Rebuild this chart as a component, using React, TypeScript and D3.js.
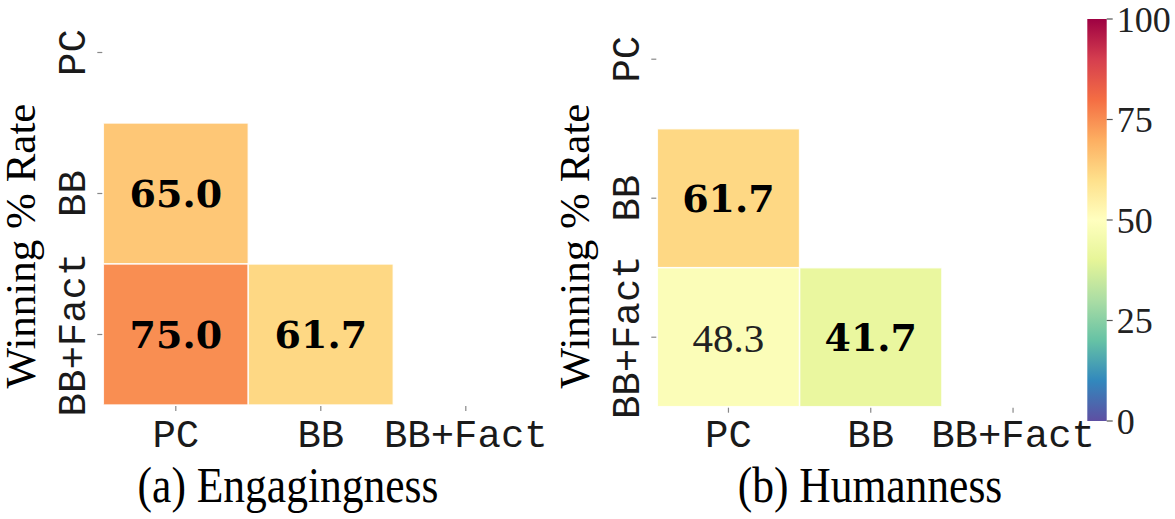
import React from "react";
import * as d3 from "d3";

// ---- data ----
const categories = ["PC", "BB", "BB+Fact"];
// cells: [rowIndex, colIndex]
const cellRows = [1, 2, 2];
const cellCols = [0, 0, 1];
const engagingValues = [65.0, 75.0, 61.7];
const engagingBold = [true, true, true];
const humanValues = [61.7, 48.3, 41.7];
const humanBold = [true, false, true];
const colorbarTicks = [0, 25, 50, 75, 100];
const spectralColors = [
  "#9e0142", "#d53e4f", "#f46d43", "#fdae61", "#fee08b", "#ffffbf",
  "#e6f598", "#abdda4", "#66c2a5", "#3288bd", "#5e4fa2",
];
const captions = ["(a) Engagingness", "(b) Humanness"];
const yLabel = "Winning % Rate";

// Spectral_r: 0 -> purple, 100 -> dark red
const colorDomain = d3.range(11).map((i) => i * 10);
const colorScale = d3
  .scaleLinear<string>()
  .domain(colorDomain)
  .range(spectralColors.slice().reverse())
  .interpolate(d3.interpolateRgb)
  .clamp(true);

const mono = "'Liberation Mono', 'DejaVu Sans Mono', monospace";
const serif = "'Liberation Serif', 'Times New Roman', serif";
const boldSerif = "'DejaVu Serif', serif";

interface PanelProps {
  x0: number;
  x1: number;
  y0: number;
  y1: number;
  values: number[];
  bold: boolean[];
  caption: string;
  captionX: number;
}

function Panel({ x0, x1, y0, y1, values, bold, caption, captionX }: PanelProps) {
  const x = d3.scaleBand<string>().domain(categories).range([x0, x1]);
  const y = d3.scaleBand<string>().domain(categories).range([y0, y1]);
  const bw = x.bandwidth();
  const bh = y.bandwidth();
  const midY = 246;
  return (
    <g>
      {values.map((v, i) => {
        const cx = x(categories[cellCols[i]])!;
        const cy = y(categories[cellRows[i]])!;
        return (
          <rect
            key={"c" + i}
            x={cx}
            y={cy}
            width={bw}
            height={bh}
            fill={colorScale(v)}
            stroke="#ffffff"
            strokeOpacity={0.85}
            strokeWidth={1.5}
          />
        );
      })}
      {values.map((v, i) => {
        const cx = x(categories[cellCols[i]])! + bw / 2;
        const cy = y(categories[cellRows[i]])! + bh / 2;
        return (
          <text
            key={"t" + i}
            x={cx}
            y={cy}
            dy="0.36em"
            textAnchor="middle"
            fontFamily={bold[i] ? boldSerif : serif}
            fontWeight={bold[i] ? "bold" : "normal"}
            fontSize={bold[i] ? 38 : 41}
            fill={bold[i] ? "#000" : "#222"}
          >
            {v.toFixed(1)}
          </text>
        );
      })}
      {/* x ticks */}
      {categories.map((c) => {
        const cx = x(c)! + bw / 2;
        return (
          <g key={"xt" + c}>
            <line x1={cx} x2={cx} y1={y1 + 1} y2={y1 + 6} stroke="#888" strokeWidth={1.2} />
            <text x={cx} y={447} textAnchor="middle" fontFamily={mono} fontSize={39} fill="#1a1a1a">
              {c}
            </text>
          </g>
        );
      })}
      {/* y ticks */}
      {categories.map((c) => {
        const cy = y(c)! + bh / 2;
        return (
          <g key={"yt" + c}>
            <line x1={x0 - 6} x2={x0 - 1} y1={cy} y2={cy} stroke="#888" strokeWidth={1.2} />
            <text
              transform={`translate(${x0 - 18.5},${cy}) rotate(-90)`}
              textAnchor="middle"
              fontFamily={mono}
              fontSize={39}
              fill="#1a1a1a"
            >
              {c}
            </text>
          </g>
        );
      })}
      <text
        transform={`translate(${x0 - 68},${midY}) rotate(-90)`}
        textAnchor="middle"
        fontFamily={serif}
        fontSize={43}
        fill="#000"
      >
        {yLabel}
      </text>
      <text
        transform={`translate(${captionX},502) scale(0.87,1)`}
        textAnchor="middle"
        fontFamily={serif}
        fontSize={50}
        fill="#000"
      >
        {caption}
      </text>
    </g>
  );
}

export default function App() {
  const cbX0 = 1087.3;
  const cbX1 = 1106.7;
  const cbY = d3.scaleLinear().domain([0, 100]).range([421, 19]);
  return (
    <svg
      width={1175}
      height={519}
      style={{ position: "absolute", left: 0, top: 0, background: "#fff" }}
    >
      <defs>
        <linearGradient id="cbGrad" x1="0" y1="1" x2="0" y2="0">
          {colorDomain.map((d) => (
            <stop key={d} offset={`${d}%`} stopColor={colorScale(d)} />
          ))}
        </linearGradient>
      </defs>
      <rect x={0} y={0} width={1175} height={519} fill="#fff" />
      <Panel
        x0={103.3}
        x1={538.3}
        y0={-18}
        y1={405}
        values={engagingValues}
        bold={engagingBold}
        caption={captions[0]}
        captionX={288}
      />
      <Panel
        x0={657.3}
        x1={1084.2}
        y0={-10.3}
        y1={406.7}
        values={humanValues}
        bold={humanBold}
        caption={captions[1]}
        captionX={870}
      />
      <rect
        x={cbX0}
        y={cbY(100)}
        width={cbX1 - cbX0}
        height={cbY(0) - cbY(100)}
        fill="url(#cbGrad)"
      />
      {colorbarTicks.map((t) => (
        <g key={"cb" + t}>
          <line x1={cbX1} x2={cbX1 + 6} y1={cbY(t)} y2={cbY(t)} stroke="#555" strokeWidth={1.2} />
          <text
            x={cbX1 + 10}
            y={cbY(t)}
            dy="0.35em"
            fontFamily={serif}
            fontSize={36}
            fill="#222"
          >
            {t}
          </text>
        </g>
      ))}
    </svg>
  );
}
